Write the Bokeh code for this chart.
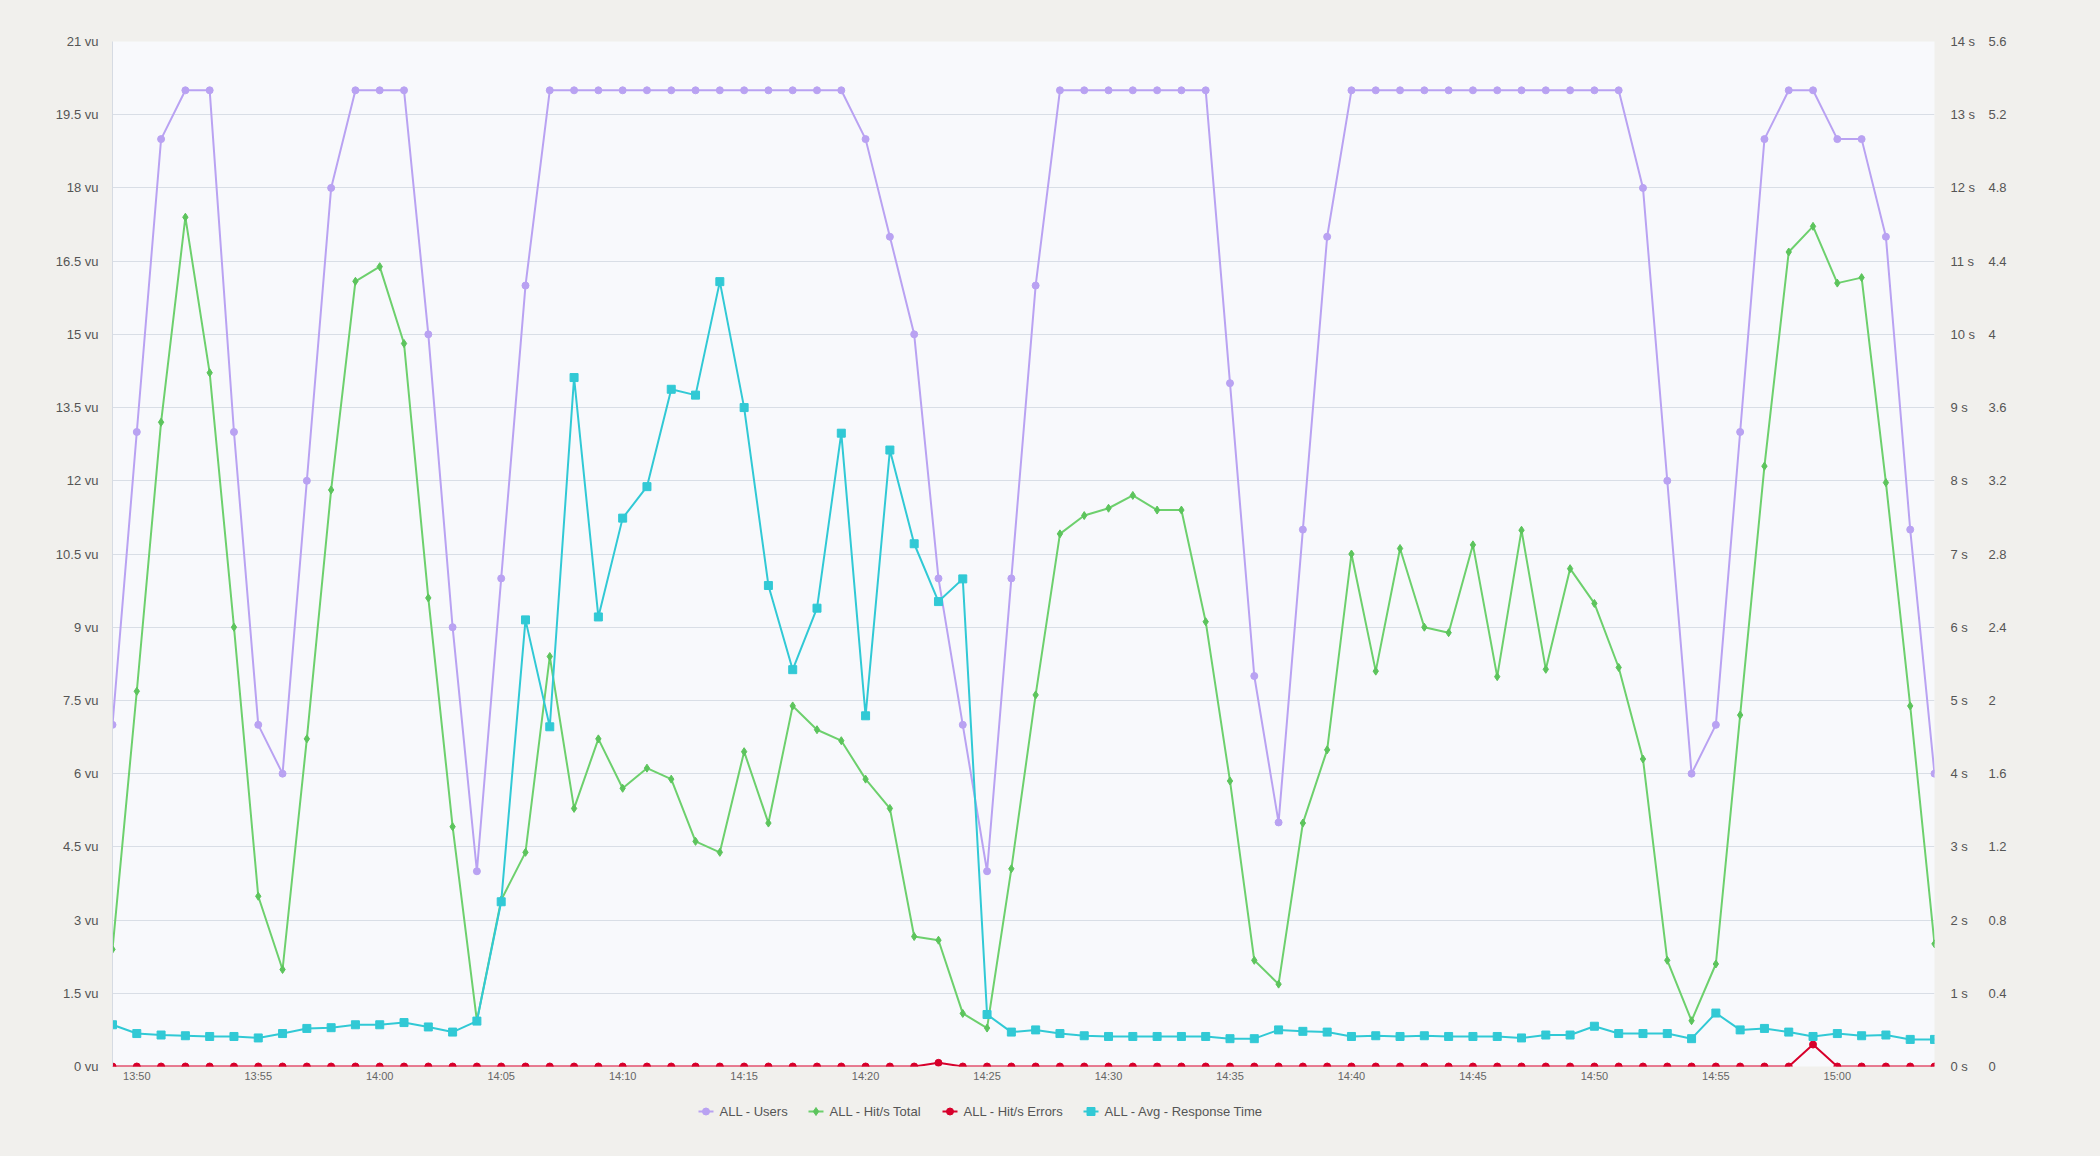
import pandas as pd
from bokeh.plotting import figure
from bokeh.layouts import column
from bokeh.models import (Range1d, LinearAxis, FixedTicker,
                          DatetimeTickFormatter, ColumnDataSource)
from bokeh.core.properties import value
from bokeh.embed import file_html
from bokeh.resources import INLINE

# ---------------- data ----------------
start_time = "2024-01-01 13:49"
first_tick = "2024-01-01 13:50"
last_tick = "2024-01-01 15:00"

# ALL - Users (vu), one point per minute from 13:49 to 15:04
users = [7, 13, 19, 20, 20, 13, 7, 6, 12, 18, 20, 20, 20, 15, 9, 4, 10, 16,
         20, 20, 20, 20, 20, 20, 20, 20, 20, 20, 20, 20, 20,
         19, 17, 15, 10, 7, 4, 10, 16,
         20, 20, 20, 20, 20, 20, 20,
         14, 8, 5, 11, 17,
         20, 20, 20, 20, 20, 20, 20, 20, 20, 20, 20, 20,
         18, 12, 6, 7, 13, 19, 20, 20, 19, 19, 17, 11, 6]

# ALL - Hit/s Total (right axis 0..5.6)
hits_total = [0.64, 2.05, 3.52, 4.64, 3.79, 2.40, 0.93, 0.53, 1.79, 3.15,
              4.29, 4.37, 3.95, 2.56, 1.31, 0.25, 0.91, 1.17, 2.24, 1.41,
              1.79, 1.52, 1.63, 1.57, 1.23, 1.17, 1.72, 1.33, 1.97, 1.84,
              1.78, 1.57, 1.41, 0.71, 0.69, 0.29, 0.21, 1.08, 2.03, 2.91,
              3.01, 3.05, 3.12, 3.04, 3.04, 2.43, 1.56, 0.58, 0.45, 1.33,
              1.73, 2.80, 2.16, 2.83, 2.40, 2.37, 2.85, 2.13, 2.93, 2.17,
              2.72, 2.53, 2.18, 1.68, 0.58, 0.25, 0.56, 1.92, 3.28, 4.45,
              4.59, 4.28, 4.31, 3.19, 1.97, 0.67]

# ALL - Hit/s Errors (right axis 0..5.6)
hits_errors = [0, 0, 0, 0, 0, 0, 0, 0, 0, 0, 0, 0, 0, 0, 0, 0, 0, 0, 0, 0,
               0, 0, 0, 0, 0, 0, 0, 0, 0, 0, 0, 0, 0, 0, 0.02, 0, 0, 0, 0, 0,
               0, 0, 0, 0, 0, 0, 0, 0, 0, 0, 0, 0, 0, 0, 0, 0, 0, 0, 0, 0,
               0, 0, 0, 0, 0, 0, 0, 0, 0, 0, 0.12, 0, 0, 0, 0, 0]

# ALL - Avg - Response Time (s)
resp_time = [0.57, 0.45, 0.43, 0.42, 0.41, 0.41, 0.39, 0.45, 0.52, 0.53,
             0.57, 0.57, 0.60, 0.54, 0.47, 0.62,
             2.25, 6.10, 4.64, 9.41, 6.14, 7.49, 7.92, 9.25, 9.17, 10.72,
             9.00, 6.57, 5.42, 6.26, 8.65, 4.79, 8.42, 7.14, 6.35, 6.66, 0.71,
             0.47, 0.50, 0.45, 0.42, 0.41, 0.41, 0.41, 0.41, 0.41, 0.38,
             0.38, 0.50, 0.48, 0.47, 0.41, 0.42, 0.41, 0.42, 0.41, 0.41,
             0.41, 0.39, 0.43, 0.43, 0.55, 0.45, 0.45, 0.45, 0.38, 0.73,
             0.50, 0.52, 0.47, 0.41, 0.45, 0.42, 0.43, 0.37, 0.37]

series_labels = ["ALL - Users", "ALL - Hit/s Total", "ALL - Hit/s Errors",
                 "ALL - Avg - Response Time"]

vu_ticks = [0, 1.5, 3, 4.5, 6, 7.5, 9, 10.5, 12, 13.5, 15, 16.5, 18, 19.5, 21]
vu_labels = ["0 vu", "1.5 vu", "3 vu", "4.5 vu", "6 vu", "7.5 vu", "9 vu",
             "10.5 vu", "12 vu", "13.5 vu", "15 vu", "16.5 vu", "18 vu",
             "19.5 vu", "21 vu"]
s_ticks = [0, 1, 2, 3, 4, 5, 6, 7, 8, 9, 10, 11, 12, 13, 14]
s_labels = ["0 s", "1 s", "2 s", "3 s", "4 s", "5 s", "6 s", "7 s", "8 s",
            "9 s", "10 s", "11 s", "12 s", "13 s", "14 s"]
h_ticks = [0.0, 0.4, 0.8, 1.2, 1.6, 2.0, 2.4, 2.8, 3.2, 3.6, 4.0, 4.4, 4.8,
           5.2, 5.6]
h_labels = ["0", "0.4", "0.8", "1.2", "1.6", "2", "2.4", "2.8", "3.2", "3.6",
            "4", "4.4", "4.8", "5.2", "5.6"]

# ---------------- style / layout ----------------
FONT = "Liberation Sans"
TXT = "#555555"
BG = "#f1f0ed"
C_USERS = "#b9a2f2"
C_HITS = "#6dd06d"
C_HITS_PT = "#5cc45c"
C_ERR = "#d7002b"
C_RT = "#31c9d5"

series_colors = [C_USERS, C_HITS, C_ERR, C_RT]
series_point_colors = [C_USERS, C_HITS_PT, C_ERR, C_RT]
series_markers = ["circle", "diamond", "circle", "square"]
series_sizes = [7, 8, 7, 8]

BORDER_L, BORDER_R, BORDER_T = 112, 166, 41
FRAME_W, FRAME_H = 1822, 1025

# legend layout (page px)
legend_start_x = 698
legend_label_widths = [69, 93, 100, 158]
legend_glyph_w = 15
legend_standoff = 6
legend_spacing = 20
legend_height = 71
legend_center_y = 26

times = pd.date_range(start_time, periods=len(users), freq="1min")
tick_times = pd.date_range(first_tick, last_tick, freq="5min")
tick_ms = [int(t.value // 10**6) for t in tick_times]

src = ColumnDataSource(dict(t=times, users=users, hits=hits_total,
                            err=hits_errors, rt=resp_time))

p = figure(frame_width=FRAME_W, frame_height=FRAME_H,
           x_axis_type="datetime",
           x_range=Range1d(times[0], times[-1]),
           y_range=Range1d(0, 21),
           output_backend="svg", toolbar_location=None,
           min_border_left=BORDER_L, min_border_right=BORDER_R,
           min_border_top=BORDER_T, min_border_bottom=19,
           background_fill_color="#f8f9fc", border_fill_color=BG,
           outline_line_color=None)

p.extra_y_ranges = {"s": Range1d(0, 14), "hits": Range1d(0, 5.6)}

# grid
p.xgrid.grid_line_color = None
p.ygrid.ticker = FixedTicker(ticks=vu_ticks[1:-1])
p.ygrid.grid_line_color = "#d9dee6"
p.ygrid.grid_line_width = 1


def style_axis(ax, size="13px", standoff=14):
    ax.major_tick_line_color = None
    ax.minor_tick_line_color = None
    ax.major_tick_out = 0
    ax.major_tick_in = 0
    ax.minor_tick_out = 0
    ax.minor_tick_in = 0
    ax.axis_line_color = None
    ax.major_label_text_font = FONT
    ax.major_label_text_font_size = size
    ax.major_label_text_color = TXT
    ax.major_label_standoff = standoff


# left axis (vu)
ly = p.yaxis[0]
ly.ticker = FixedTicker(ticks=vu_ticks)
ly.major_label_overrides = dict(zip(vu_ticks, vu_labels))
style_axis(ly, standoff=14)
ly.axis_line_color = "#d6dbe3"

# bottom axis
xa = p.xaxis[0]
xa.ticker = FixedTicker(ticks=tick_ms)
fmt = "%H:%M"
xa.formatter = DatetimeTickFormatter(milliseconds=fmt, seconds=fmt, minsec=fmt,
                                     minutes=fmt, hourmin=fmt, hours=fmt,
                                     days=fmt, months=fmt, years=fmt)
style_axis(xa, size="11px", standoff=3)
xa.major_label_text_color = "#666666"

# right axes
ax_s = LinearAxis(y_range_name="s", ticker=FixedTicker(ticks=s_ticks))
ax_s.major_label_overrides = dict(zip(s_ticks, s_labels))
style_axis(ax_s, standoff=16)
p.add_layout(ax_s, "right")

ax_h = LinearAxis(y_range_name="hits", ticker=FixedTicker(ticks=h_ticks))
ax_h.major_label_overrides = dict(zip(h_ticks, h_labels))
style_axis(ax_h, standoff=10)
p.add_layout(ax_h, "right")

# series
cols = ["users", "hits", "err", "rt"]
ranges = ["default", "hits", "hits", "s"]
for i in range(4):
    p.line("t", cols[i], source=src, color=series_colors[i], line_width=2,
           y_range_name=ranges[i])
    p.scatter("t", cols[i], source=src, marker=series_markers[i],
              size=series_sizes[i], color=series_point_colors[i],
              y_range_name=ranges[i])

# ---------------- legend strip (separate figure below, same frame) -------
leg = figure(frame_width=FRAME_W, frame_height=legend_height,
             x_range=Range1d(BORDER_L, BORDER_L + FRAME_W),
             y_range=Range1d(legend_height, 0),
             output_backend="svg", toolbar_location=None,
             x_axis_location=None, y_axis_location=None,
             min_border_left=BORDER_L, min_border_right=BORDER_R,
             min_border_top=0, min_border_bottom=0,
             background_fill_color=BG, border_fill_color=BG,
             outline_line_color=None)
leg.grid.visible = False

gx = legend_start_x
for i in range(4):
    leg.line([gx, gx + legend_glyph_w], [legend_center_y, legend_center_y],
             color=series_colors[i], line_width=2)
    leg.scatter([gx + legend_glyph_w / 2], [legend_center_y],
                marker=series_markers[i], size=series_sizes[i],
                color=series_point_colors[i])
    leg.text([gx + legend_glyph_w + legend_standoff], [legend_center_y],
             text=[series_labels[i]], text_baseline="middle",
             text_align="left", text_font=value(FONT),
             text_font_size="13px", text_color=TXT)
    gx += (legend_glyph_w + legend_standoff + legend_label_widths[i]
           + legend_spacing)

layout = column(p, leg, spacing=0, background=BG)

html = file_html(layout, INLINE)
html = html.replace("</head>",
                    "<style>html, body { background: #f1f0ed; }</style></head>",
                    1)
open("out.html", "w").write(html)
